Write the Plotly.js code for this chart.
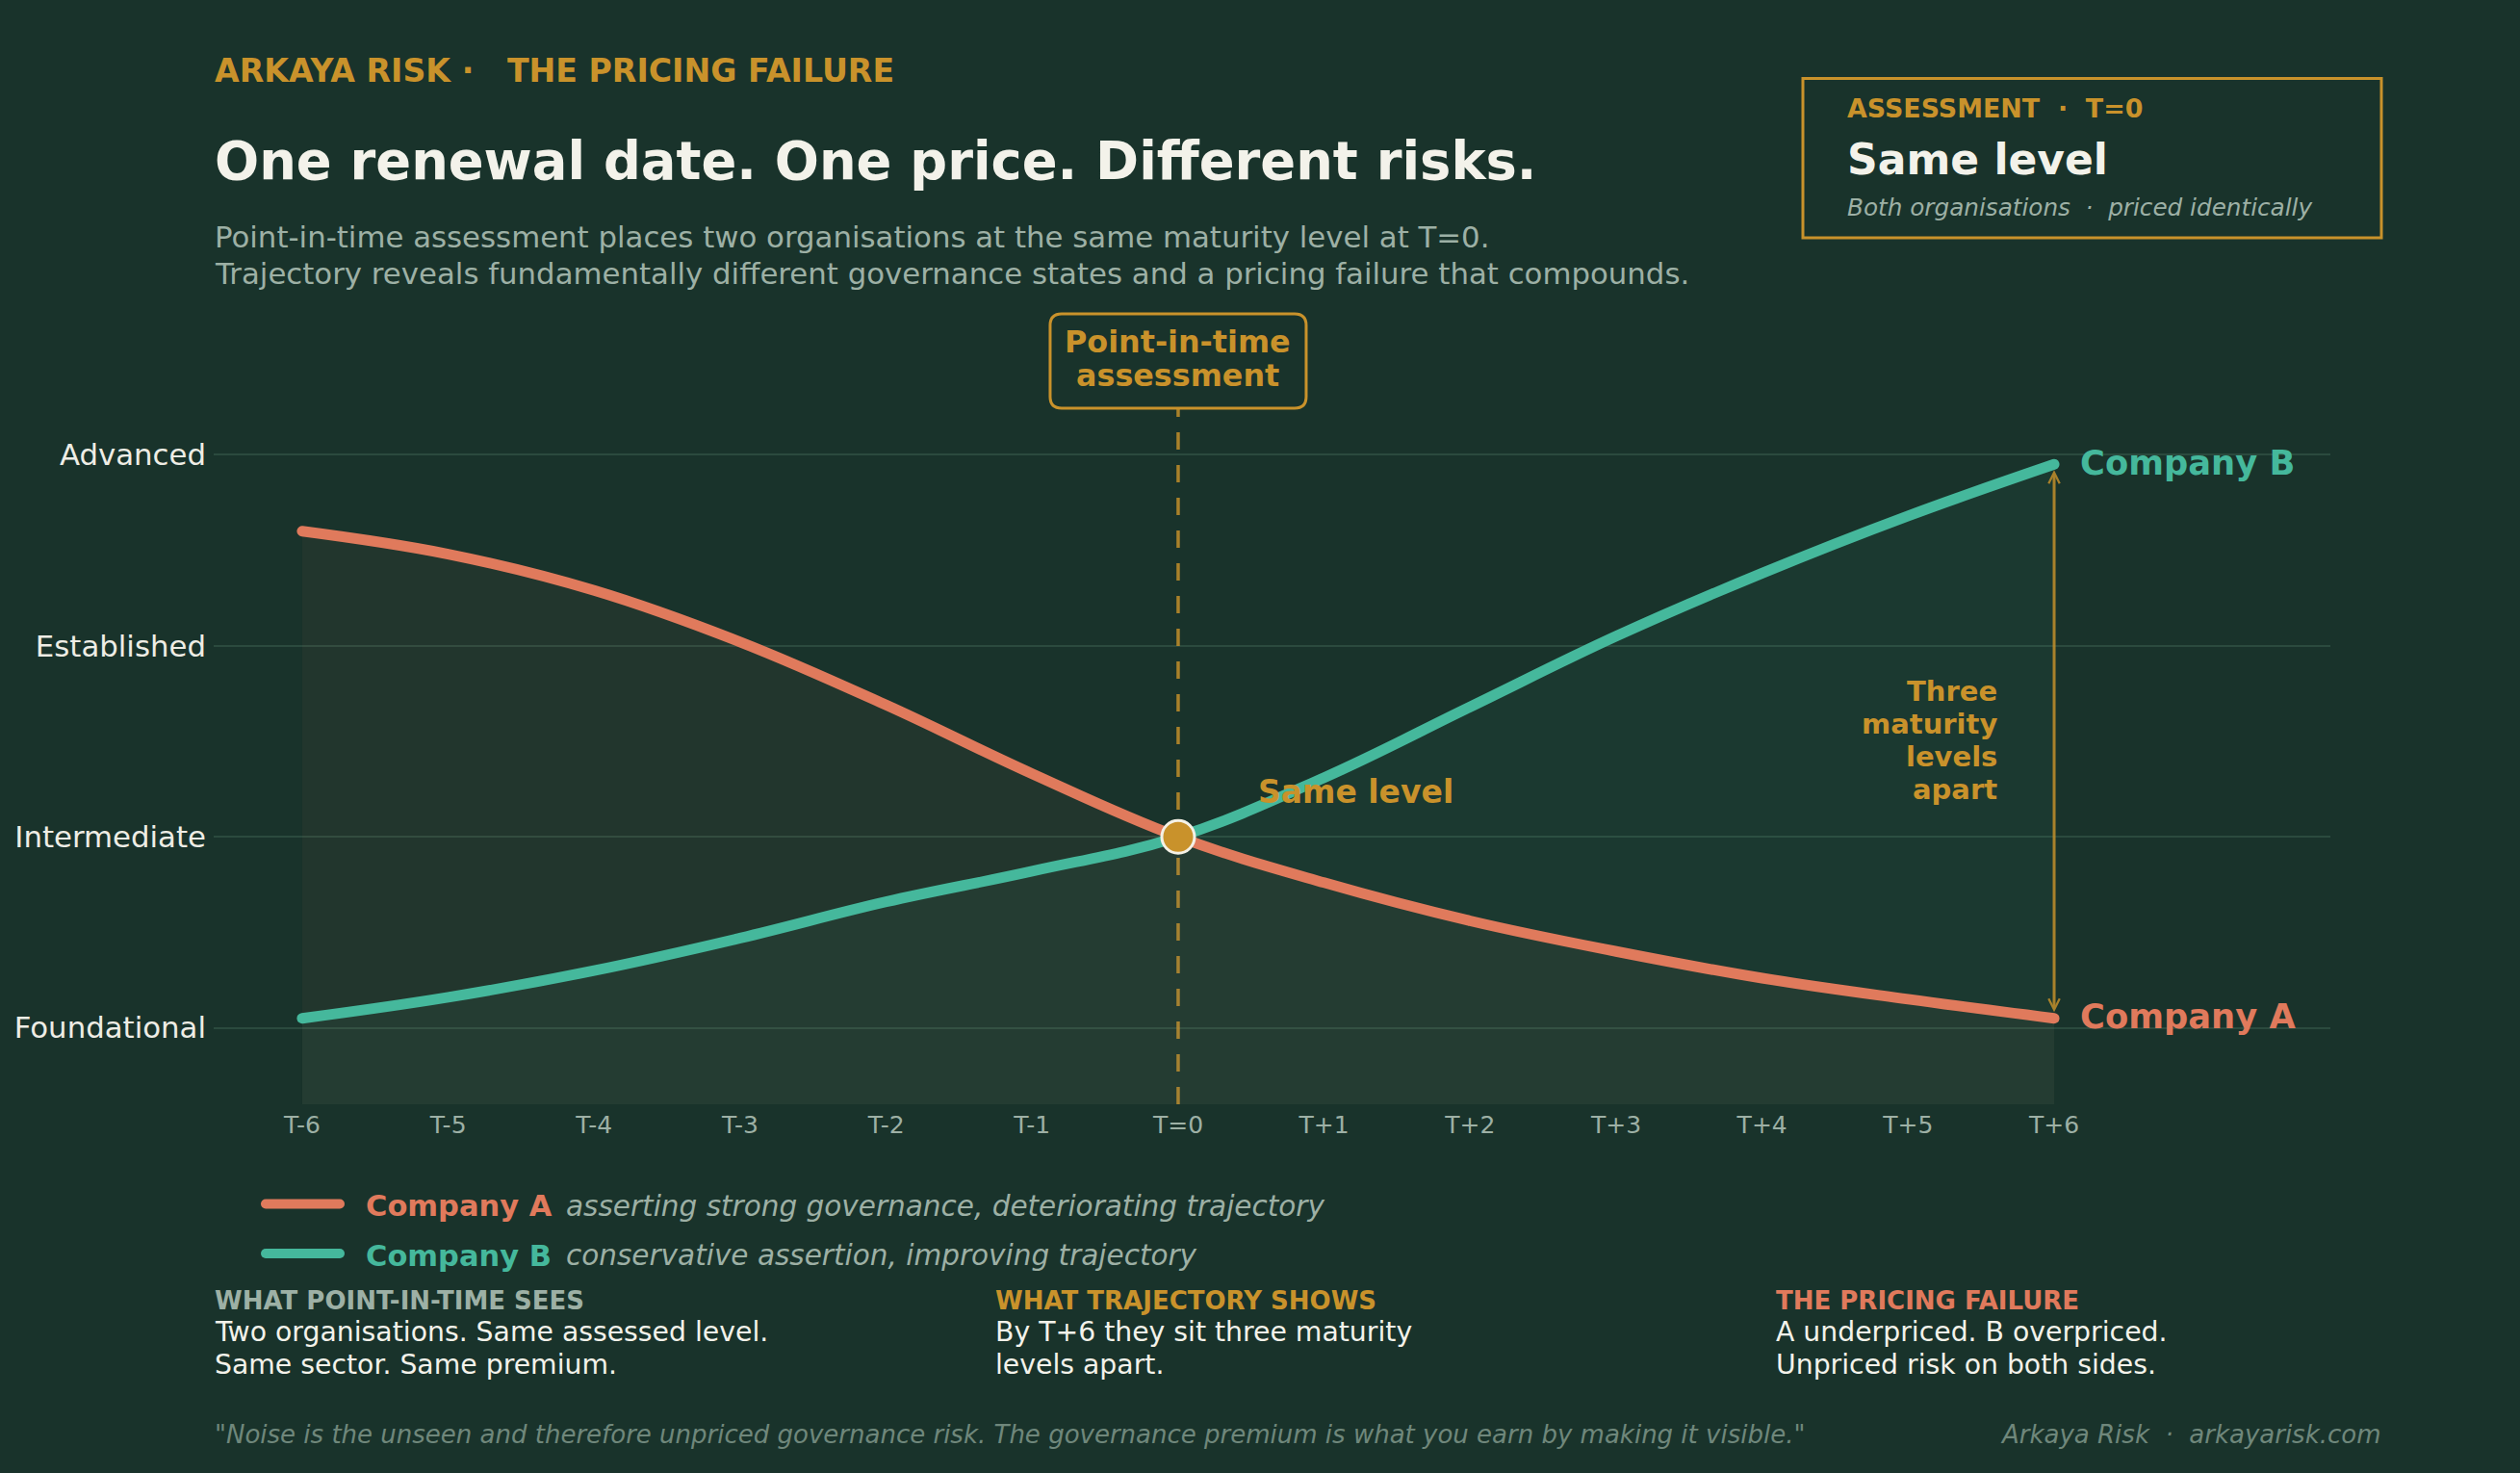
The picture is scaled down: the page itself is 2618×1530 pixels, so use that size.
<!DOCTYPE html>
<html>
<head>
<meta charset="utf-8">
<script src="https://cdn.plot.ly/plotly-3.0.1.min.js"></script>
<style>
  html, body { margin: 0; padding: 0; background: #19332b; }
  #chart { width: 2618px; height: 1530px; }
  .scatterlayer .js-line { stroke-linecap: round; }
  .shapelayer path[data-index="3"], .shapelayer path[data-index="4"] { stroke-linecap: round; }
</style>
</head>
<body>
<div id="chart"></div>
<script>
// ---- data ----
const periods = ['T-6', 'T-5', 'T-4', 'T-3', 'T-2', 'T-1', 'T=0', 'T+1', 'T+2', 'T+3', 'T+4', 'T+5', 'T+6'];
const offsets = [-6, -5, -4, -3, -2, -1, 0, 1, 2, 3, 4, 5, 6];
const levelNames = ['Foundational', 'Intermediate', 'Established', 'Advanced'];
const levelValues = [1, 2, 3, 4];
const companyA = [3.60, 3.48, 3.29, 3.02, 2.69, 2.33, 2.00, 1.76, 1.56, 1.40, 1.26, 1.15, 1.05];
const companyB = [1.05, 1.16, 1.30, 1.47, 1.66, 1.82, 2.00, 2.31, 2.68, 3.05, 3.38, 3.68, 3.95];
const assessmentPeriod = 'T=0';

// ---- palette ----
const BG = '#19332b';
const GOLD = '#c9922b';
const GOLD_DIM = 'rgba(201,146,43,0.82)';
const ORANGE = '#e07a5c';
const TEAL = '#45b89c';
const WHITE = '#f3f2ea';
const MUTED = '#9db0a5';
const FAINT = '#6f877b';
const GRID = '#2b4a3e';
const FONT = 'DejaVu Sans';

// ---- page geometry ----
const W = 2618, H = 1530;
const M = { l: 222, r: 197, t: 393, b: 383 };
const PW = W - M.l - M.r, PH = H - M.t - M.b;
const px = x => (x - M.l) / PW;
const py = y => (H - M.b - y) / PH;

const i0 = periods.indexOf(assessmentPeriod);
const last = periods.length - 1;
const yRange = [0.6, 4.4];

// text block positioned in page pixels (left/right edge, vertical centre)
function label(text, x, y, size, color, extra) {
  const o = Object.assign({ anchor: 'left', weight: 'normal', style: 'normal' }, extra || {});
  const nudge = o.anchor === 'left' ? -3 : (o.anchor === 'right' ? 3 : 0);
  return {
    text: text, xref: 'paper', yref: 'paper', x: px(x + nudge), y: py(y),
    xanchor: o.anchor, yanchor: 'middle', showarrow: false,
    font: { family: FONT, size: size, color: color, weight: o.weight, style: o.style }
  };
}

// ---- traces ----
const traces = [
  { x: offsets, y: companyA, mode: 'lines', line: { width: 0, shape: 'spline', color: ORANGE },
    fill: 'tozeroy', fillcolor: 'rgba(224,122,92,0.05)', hoverinfo: 'skip', showlegend: false },
  { x: offsets, y: companyB, mode: 'lines', line: { width: 0, shape: 'spline', color: TEAL },
    fill: 'tozeroy', fillcolor: 'rgba(69,184,156,0.05)', hoverinfo: 'skip', showlegend: false },
  { name: 'Company A', x: offsets, y: companyA, mode: 'lines',
    line: { width: 11, shape: 'spline', smoothing: 1.1, color: ORANGE }, showlegend: false },
  { name: 'Company B', x: offsets, y: companyB, mode: 'lines',
    line: { width: 11, shape: 'spline', smoothing: 1.1, color: TEAL }, showlegend: false },
  { x: [offsets[i0]], y: [companyA[i0]], mode: 'markers', hoverinfo: 'skip', showlegend: false,
    marker: { size: 34, color: GOLD, line: { color: '#f4f1e6', width: 3 } } }
];
traces[0].line.smoothing = 1.1;
traces[1].line.smoothing = 1.1;

// ---- shapes ----
const boxW = 266, r = 12;
const half = boxW / 2;
// rounded tag above the assessment line, anchored at the top of the plot area
const tagBottom = M.t - 424, tagTop = M.t - 326;
const tagPath = [
  'M', -half + r, tagBottom, 'L', half - r, tagBottom,
  'Q', half, tagBottom, half, tagBottom + r,
  'L', half, tagTop - r, 'Q', half, tagTop, half - r, tagTop,
  'L', -half + r, tagTop, 'Q', -half, tagTop, -half, tagTop - r,
  'L', -half, tagBottom + r, 'Q', -half, tagBottom, -half + r, tagBottom, 'Z'
].join(' ');

const shapes = [
  { type: 'line', xref: 'x', yref: 'y', x0: offsets[i0], x1: offsets[i0], y0: yRange[0], y1: 4.24,
    line: { color: GOLD_DIM, width: 3.5, dash: '18px,16px' }, layer: 'between' },
  { type: 'path', xref: 'x', yref: 'paper', xsizemode: 'pixel', ysizemode: 'pixel',
    xanchor: offsets[i0], yanchor: 1, path: tagPath,
    fillcolor: BG, line: { color: GOLD, width: 3 }, layer: 'above' },
  { type: 'rect', xref: 'paper', yref: 'paper', x0: px(1873), x1: px(2474), y0: py(81.5), y1: py(247),
    fillcolor: 'rgba(0,0,0,0)', line: { color: GOLD, width: 3 }, layer: 'above' },
  { type: 'line', xref: 'paper', yref: 'paper', x0: px(276), x1: px(353), y0: py(1250.5), y1: py(1250.5),
    line: { color: ORANGE, width: 10 }, layer: 'above' },
  { type: 'line', xref: 'paper', yref: 'paper', x0: px(276), x1: px(353), y0: py(1302), y1: py(1302),
    line: { color: TEAL, width: 10 }, layer: 'above' }
];

// ---- annotations ----
const NB = '\u00a0';
const annotations = [
  label('ARKAYA RISK ·' + NB + NB + NB + 'THE PRICING FAILURE', 224, 73, 33.2, GOLD, { weight: 'bold' }),
  label('One renewal date. One price. Different risks.', 224, 167, 54.3, WHITE, { weight: 'bold' }),
  label('Point-in-time assessment places two organisations at the same maturity level at T=0.', 224, 246, 30.8, MUTED),
  label('Trajectory reveals fundamentally different governance states and a pricing failure that compounds.', 224, 284.5, 30.8, MUTED),

  label('ASSESSMENT' + NB + NB + '·' + NB + NB + 'T=0', 1920, 112.5, 26.9, GOLD, { weight: 'bold' }),
  label('Same level', 1920, 166, 44, WHITE, { weight: 'bold' }),
  label('Both organisations' + NB + NB + '·' + NB + NB + 'priced identically', 1920, 216, 24.7, MUTED, { style: 'italic' }),

  // tag text over the assessment line
  { text: 'Point-in-time', xref: 'x', yref: 'paper', x: offsets[i0], y: py(354.6), xanchor: 'center', yanchor: 'middle',
    showarrow: false, font: { family: FONT, size: 31.8, color: GOLD, weight: 'bold' } },
  { text: 'assessment', xref: 'x', yref: 'paper', x: offsets[i0], y: py(389.7), xanchor: 'center', yanchor: 'middle',
    showarrow: false, font: { family: FONT, size: 31.8, color: GOLD, weight: 'bold' } },

  { text: 'Same level', xref: 'x', yref: 'paper', x: offsets[i0], xshift: 81, y: py(822), xanchor: 'left', yanchor: 'middle',
    showarrow: false, font: { family: FONT, size: 33, color: GOLD, weight: 'bold' } },

  // series end labels
  { text: 'Company B', xref: 'x', yref: 'y', x: offsets[last], y: companyB[last], xshift: 25, yshift: 2,
    xanchor: 'left', yanchor: 'middle', showarrow: false,
    font: { family: FONT, size: 35.3, color: TEAL, weight: 'bold' } },
  { text: 'Company A', xref: 'x', yref: 'y', x: offsets[last], y: companyA[last], xshift: 25, yshift: 2,
    xanchor: 'left', yanchor: 'middle', showarrow: false,
    font: { family: FONT, size: 35.3, color: ORANGE, weight: 'bold' } },

  // gap arrow between the two end points
  { text: '', xref: 'x', yref: 'y', axref: 'x', ayref: 'y',
    x: offsets[last], y: companyB[last], ax: offsets[last], ay: companyA[last],
    showarrow: true, arrowside: 'end+start', arrowhead: 5, startarrowhead: 5,
    arrowsize: 0.75, startarrowsize: 0.75, arrowwidth: 3, arrowcolor: GOLD_DIM,
    standoff: 6, startstandoff: 5 }
];

['Three', 'maturity', 'levels', 'apart'].forEach((word, k) => {
  annotations.push({
    text: word, xref: 'x', yref: 'paper', x: offsets[last], xshift: -57, y: py(717.5 + k * 34.3),
    xanchor: 'right', yanchor: 'middle', showarrow: false,
    font: { family: FONT, size: 29, color: GOLD, weight: 'bold' }
  });
});

// legend rows
annotations.push(
  label('Company A', 381, 1252.5, 30.5, ORANGE, { weight: 'bold' }),
  label('asserting strong governance, deteriorating trajectory', 589, 1252.5, 29.5, MUTED, { style: 'italic' }),
  label('Company B', 381, 1304, 30.5, TEAL, { weight: 'bold' }),
  label('conservative assertion, improving trajectory', 589, 1304, 29.5, MUTED, { style: 'italic' })
);

// three takeaway columns
const columns = [
  { x: 224, head: 'WHAT POINT-IN-TIME SEES', color: MUTED,
    lines: ['Two organisations. Same assessed level.', 'Same sector. Same premium.'] },
  { x: 1035, head: 'WHAT TRAJECTORY SHOWS', color: GOLD,
    lines: ['By T+6 they sit three maturity', 'levels apart.'] },
  { x: 1846, head: 'THE PRICING FAILURE', color: ORANGE,
    lines: ['A underpriced. B overpriced.', 'Unpriced risk on both sides.'] }
];
columns.forEach(c => {
  annotations.push(label(c.head, c.x, 1350.5, 26, c.color, { weight: 'bold' }));
  c.lines.forEach((t, k) => annotations.push(label(t, c.x, 1383.5 + k * 34.3, 28.3, WHITE)));
});

// footer
annotations.push(
  label('"Noise is the unseen and therefore unpriced governance risk. The governance premium is what you earn by making it visible."',
    224, 1489.5, 26, FAINT, { style: 'italic' }),
  label('Arkaya Risk' + NB + NB + '·' + NB + NB + 'arkayarisk.com', 2473, 1489.5, 26, FAINT, { style: 'italic', anchor: 'right' })
);

const layout = {
  width: W, height: H,
  paper_bgcolor: BG, plot_bgcolor: BG,
  margin: { l: M.l, r: M.r, t: M.t, b: M.b, pad: 0 },
  font: { family: FONT, color: WHITE },
  showlegend: false,
  hovermode: false,
  xaxis: {
    range: [-6.606, 7.892], tickmode: 'array', tickvals: offsets, ticktext: periods,
    showgrid: false, zeroline: false, showline: false, ticks: '', ticklabelstandoff: 4,
    tickfont: { family: FONT, size: 25, color: MUTED }, fixedrange: true
  },
  yaxis: {
    range: yRange, tickmode: 'array', tickvals: levelValues, ticktext: levelNames,
    showgrid: true, gridcolor: GRID, gridwidth: 2, zeroline: false, showline: false, ticks: '',
    ticklabelstandoff: 7,
    tickfont: { family: FONT, size: 30.8, color: '#eeede5' }, fixedrange: true
  },
  shapes: shapes,
  annotations: annotations
};

Plotly.newPlot('chart', traces, layout, { displayModeBar: false, staticPlot: true });
</script>
</body>
</html>
